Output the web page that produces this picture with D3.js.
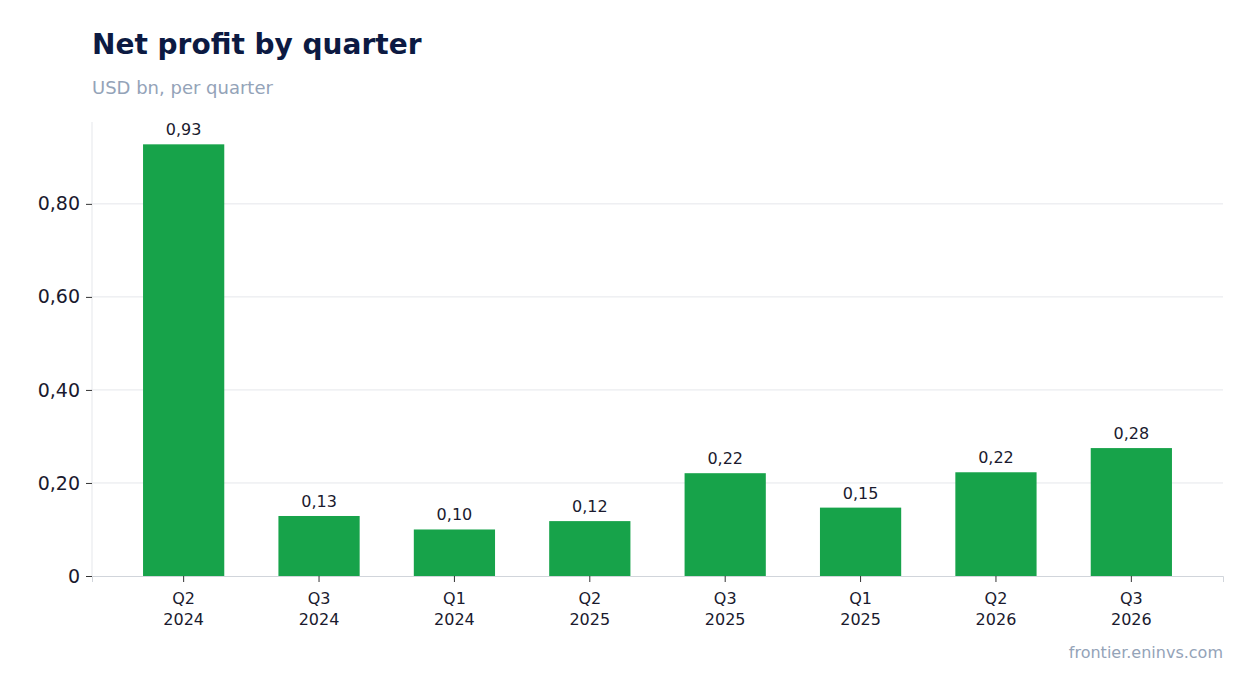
<!DOCTYPE html>
<html><head><meta charset="utf-8">
<script src="https://cdn.jsdelivr.net/npm/d3@7"></script>
<style>body{margin:0;background:#fff;font-family:"DejaVu Sans",sans-serif}</style>
</head><body><svg id="c" width="1254" height="693"></svg>
<script>
const quarters=["Q2","Q3","Q1","Q2","Q3","Q1","Q2","Q3"];
const years=["2024","2024","2024","2025","2025","2025","2026","2026"];
const values=[0.928,0.129,0.100,0.118,0.221,0.147,0.223,0.275];
const yTicks=[0,0.2,0.4,0.6,0.8];
const svg=d3.select("#c");
const L=92,R=1223,T=122,B=576;
const x=d3.scaleBand().domain(d3.range(values.length)).range([L,R]).paddingInner(0.4).paddingOuter(0.377);
const y=d3.scaleLinear().domain([0,0.976]).range([B,T]);
const fmt=v=>v===0?"0":d3.format(".2f")(v).replace(".",",");
svg.append("text").attr("x",92).attr("y",54).attr("font-size",28).attr("font-weight","bold").attr("fill","#0c1a42").text("Net profit by quarter");
svg.append("text").attr("x",92).attr("y",94).attr("font-size",18).attr("fill","#94a3b8").text("USD bn, per quarter");
svg.append("text").attr("x",1223).attr("y",658).attr("text-anchor","end").attr("font-size",16).attr("fill","#94a3b8").text("frontier.eninvs.com");
svg.append("g").selectAll("line").data(yTicks.slice(1)).join("line").attr("x1",L).attr("x2",R).attr("y1",d=>y(d)).attr("y2",d=>y(d)).attr("stroke","#e5e7eb");
svg.append("line").attr("x1",L).attr("x2",L).attr("y1",T).attr("y2",B).attr("stroke","#e5e7eb");
const ya=svg.append("g").attr("transform",`translate(${L},0)`).call(d3.axisLeft(y).tickValues(yTicks).tickFormat(fmt).tickSize(6).tickPadding(6));
ya.select(".domain").remove();
ya.selectAll("line").attr("stroke","#333");
ya.selectAll("text").attr("font-size",19).attr("fill","#1a1a2e").attr("font-family","DejaVu Sans");
svg.append("g").selectAll("rect").data(values).join("rect").attr("x",(d,i)=>x(i)).attr("width",x.bandwidth()).attr("y",d=>y(d)).attr("height",d=>B-y(d)).attr("fill","#17a34a");
svg.append("g").selectAll("text").data(values).join("text").attr("x",(d,i)=>x(i)+x.bandwidth()/2).attr("y",d=>y(d)-9).attr("text-anchor","middle").attr("font-size",16).attr("fill","#1a1a2e").text(d=>fmt(d));
const xa=svg.append("g").attr("transform",`translate(0,${B})`).call(d3.axisBottom(x).tickSize(6).tickFormat(""));
xa.select(".domain").attr("stroke","#d1d5db");
xa.selectAll("line").attr("stroke","#333");
const lab=svg.append("g").selectAll("text").data(values).join("text").attr("text-anchor","middle").attr("font-size",16).attr("fill","#1a1a2e");
lab.append("tspan").attr("x",(d,i)=>x(i)+x.bandwidth()/2).attr("y",604).text((d,i)=>quarters[i]);
lab.append("tspan").attr("x",(d,i)=>x(i)+x.bandwidth()/2).attr("y",625).text((d,i)=>years[i]);
</script></body></html>
